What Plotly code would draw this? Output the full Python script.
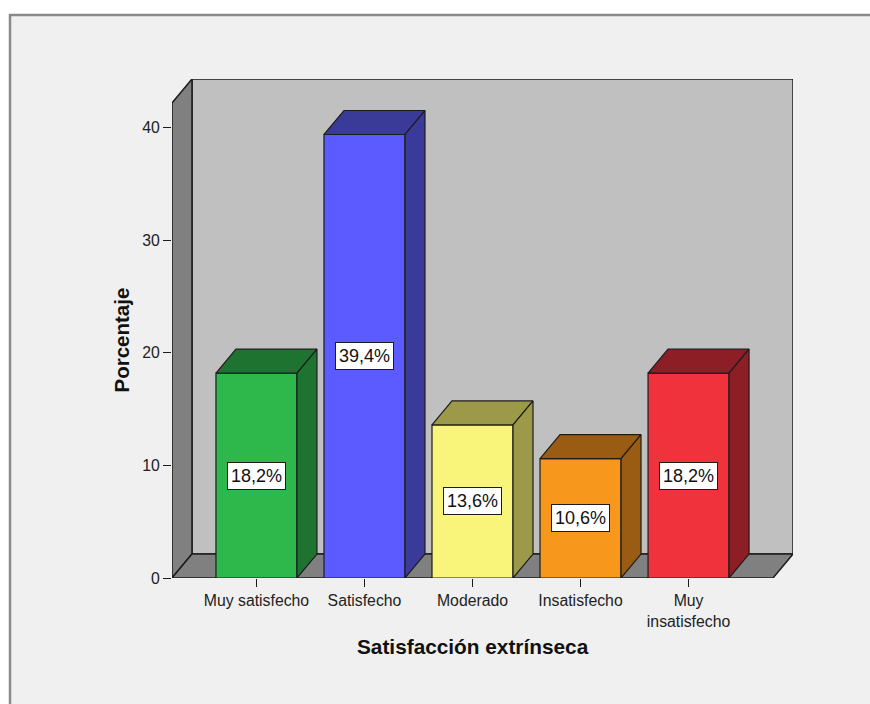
import plotly.graph_objects as go

# ---- data -------------------------------------------------------------
categories = ["Muy satisfecho", "Satisfecho", "Moderado", "Insatisfecho", "Muy insatisfecho"]
tick_labels = ["Muy satisfecho", "Satisfecho", "Moderado", "Insatisfecho", "Muy<br>insatisfecho"]
percentages = [18.2, 39.4, 13.6, 10.6, 18.2]
y_ticks = [0, 10, 20, 30, 40]

front_colors = ["#2eb84b", "#5b5bff", "#f8f57a", "#f7981d", "#f0323c"]
shade_colors = ["#1e7330", "#3a3a99", "#9c9a48", "#9a5c12", "#8e1e26"]

# ---- 3-D box geometry (axis units) -------------------------------------
BAR_W = 0.75          # bar width in category units
DX = 0.185            # depth offset along x (category units)
DY = 2.13             # depth offset along y (percent units)
X_LO, X_HI = -0.782, 4.782   # front plane extent
Y_TOP = 42.2          # top of the side wall at the front plane

EDGE = "#1c1c1c"
FONT = "Liberation Sans, Arial, sans-serif"


def path(pts):
    return "M " + " L ".join(f"{x},{y}" for x, y in pts) + " Z"


fig = go.Figure()

# front faces of the bars
fig.add_trace(go.Bar(
    x=list(range(len(categories))), y=percentages, width=BAR_W,
    marker=dict(color=front_colors, line=dict(color=EDGE, width=1.2)),
    hoverinfo="skip", showlegend=False,
))

# top and side faces of the bars
for i, (v, c) in enumerate(zip(percentages, shade_colors)):
    x0, x1 = i - BAR_W / 2, i + BAR_W / 2
    top = [(x0, v), (x0 + DX, v + DY), (x1 + DX, v + DY), (x1, v), (x0, v)]
    side = [(x1, 0), (x1, v), (x1 + DX, v + DY), (x1 + DX, DY), (x1, 0)]
    for poly in (top, side):
        fig.add_trace(go.Scatter(
            x=[p[0] for p in poly], y=[p[1] for p in poly],
            mode="lines", fill="toself", fillcolor=c,
            line=dict(color=EDGE, width=1.2),
            hoverinfo="skip", showlegend=False,
        ))

# value labels
annotations = []
for i, v in enumerate(percentages):
    annotations.append(dict(
        x=i, y=v / 2, xref="x", yref="y",
        text=f"{v:.1f}".replace(".", ",") + "%",
        showarrow=False, bgcolor="white", bordercolor=EDGE,
        borderwidth=1, borderpad=3,
        font=dict(family=FONT, size=18, color="#111"),
    ))

# axis titles
annotations.append(dict(
    x=(120.5 - 172) / 621, y=(578 - 340) / 499, xref="paper", yref="paper",
    xanchor="center", yanchor="middle",
    text="<b>Porcentaje</b>", textangle=-90, showarrow=False,
    font=dict(family=FONT, size=20.5, color="#111"),
))
annotations.append(dict(
    x=(472.5 - 172) / 621, y=-(646 - 578) / 499, xref="paper", yref="paper",
    xanchor="center", yanchor="middle",
    text="<b>Satisfacción extrínseca</b>", showarrow=False,
    font=dict(family=FONT, size=20.8, color="#111"),
))

# chart frame and the box walls
shapes = [
    dict(type="rect", xref="paper", yref="paper",
         x0=-(172 - 10) / 621, x1=1.4, y0=-0.5, y1=1 + (79 - 15) / 499,
         fillcolor="#f0f0f0", line=dict(color="#8a8a8a", width=2.5), layer="below"),
    # back wall
    dict(type="path", xref="x", yref="y", layer="below",
         path=path([(X_LO + DX, DY), (X_HI + DX, DY), (X_HI + DX, Y_TOP + DY), (X_LO + DX, Y_TOP + DY)]),
         fillcolor="#c0c0c0", line=dict(color=EDGE, width=1.5)),
    # left wall
    dict(type="path", xref="x", yref="y", layer="below",
         path=path([(X_LO, 0), (X_LO, Y_TOP), (X_LO + DX, Y_TOP + DY), (X_LO + DX, DY)]),
         fillcolor="#808080", line=dict(color=EDGE, width=1.5)),
    # floor
    dict(type="path", xref="x", yref="y", layer="below",
         path=path([(X_LO, 0), (X_HI, 0), (X_HI + DX, DY), (X_LO + DX, DY)]),
         fillcolor="#808080", line=dict(color=EDGE, width=1.5)),
]

fig.update_layout(
    width=870, height=704,
    margin=dict(l=172, r=77, t=79, b=126),
    paper_bgcolor="white", plot_bgcolor="rgba(0,0,0,0)",
    showlegend=False, shapes=shapes, annotations=annotations,
    xaxis=dict(
        range=[X_LO, X_HI + DX], tickvals=list(range(len(categories))),
        ticktext=tick_labels, ticks="outside", ticklen=8, tickcolor=EDGE,
        tickfont=dict(family=FONT, size=15.8, color="#222"),
        showgrid=False, zeroline=False, showline=False, fixedrange=True,
    ),
    yaxis=dict(
        range=[0, Y_TOP + DY], tickvals=y_ticks, ticks="outside", ticklen=8,
        tickcolor=EDGE, tickfont=dict(family=FONT, size=15.8, color="#222"),
        showgrid=False, zeroline=False, showline=False, fixedrange=True,
    ),
)

fig.write_html("out.html")
